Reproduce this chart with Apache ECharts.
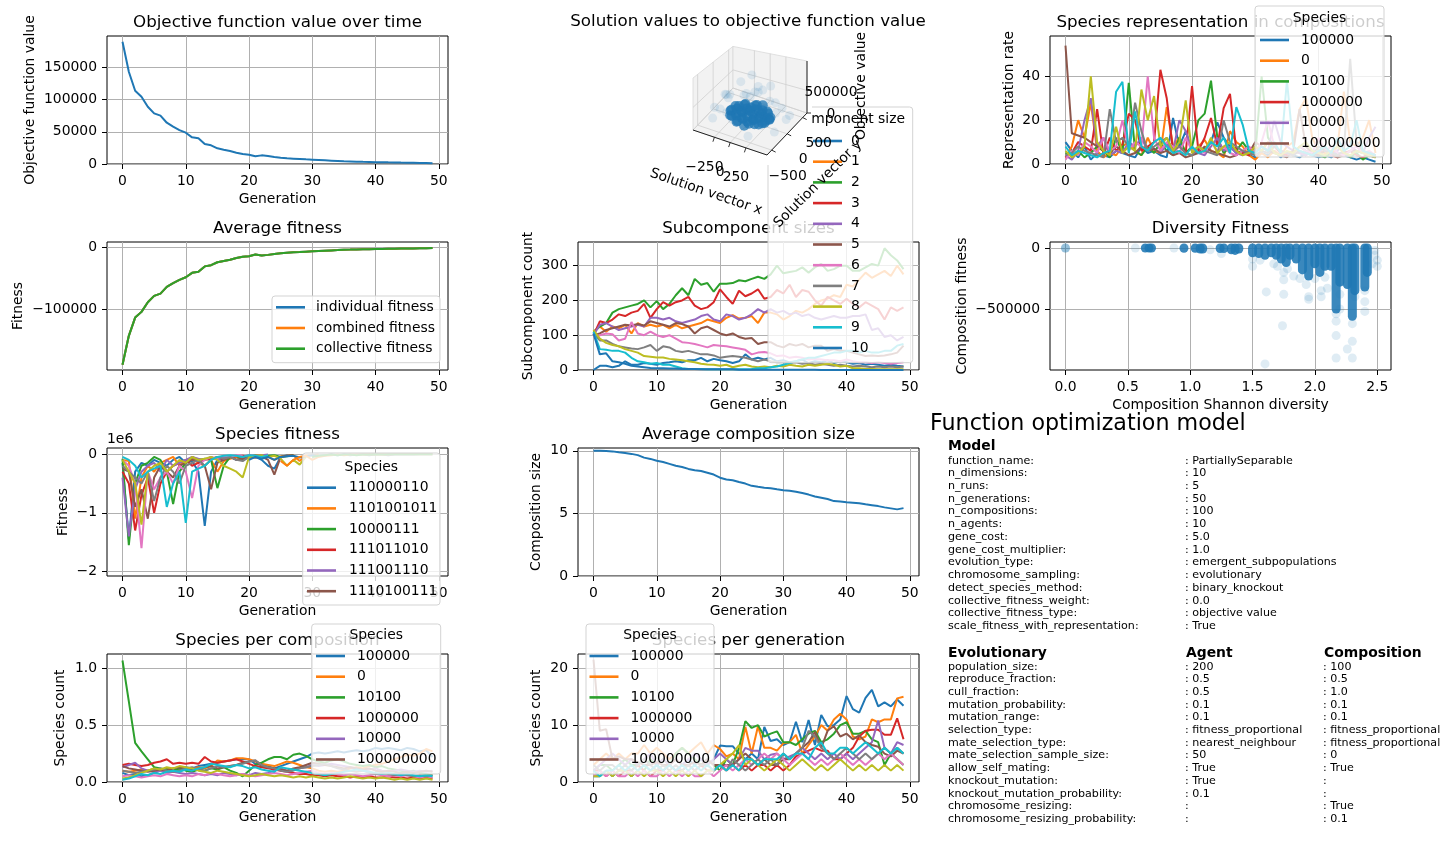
<!DOCTYPE html>
<html>
<head>
<meta charset="utf-8">
<title>Function optimization model</title>
<script src="https://cdn.jsdelivr.net/npm/echarts@6/dist/echarts.min.js"></script>
<style>
    html, body { margin: 0; padding: 0; background: #fff; }
    #chart { width: 1450px; height: 850px; }
</style>
</head>
<body>
<div id="chart"></div>
<script>
(function () {
    var FONT = 'DejaVu Sans';
    var TAB10 = ['#1f77b4', '#ff7f0e', '#2ca02c', '#d62728', '#9467bd', '#8c564b', '#e377c2', '#7f7f7f', '#bcbd22', '#17becf'];

    // ---- tick labels ----
    var generationTicks = [0, 10, 20, 30, 40, 50];
    var objectiveTicks = [0, 50000, 100000, 150000];
    var avgFitnessTicks = [-100000, 0];
    var speciesFitnessTicks = [-2, -1, 0];
    var speciesCompTicks = [0, 0.5, 1.0];
    var subcompTicks = [0, 100, 200, 300];
    var compSizeTicks = [0, 5, 10];
    var speciesGenTicks = [0, 10, 20];
    var speciesRepTicks = [0, 20, 40];
    var diversityXTicks = [0, 0.5, 1.0, 1.5, 2.0, 2.5];
    var diversityYTicks = [-500000, 0];

    // ---- objective / fitness ----
    var objectiveValues = [189800, 143200, 113700, 104500, 88900, 78600, 75000, 64100, 57900, 52700, 48600, 41400, 39800, 31000, 29000, 24300, 22200, 20200, 17600, 15500, 14500, 11900, 13400, 12400, 10900, 9800, 8800, 8300, 7800, 7200, 6700, 6200, 5700, 5200, 4700, 4100, 3900, 3600, 3300, 3200, 2800, 2900, 2600, 2500, 2200, 2000, 1900, 1700, 1600, 1300];
    var averageFitness = [-189800, -143200, -113700, -104500, -88900, -78600, -75000, -64100, -57900, -52700, -48600, -41400, -39800, -31000, -29000, -24300, -22200, -20200, -17600, -15500, -14500, -11900, -13400, -12400, -10900, -9800, -8800, -8300, -7800, -7200, -6700, -6200, -5700, -5200, -4700, -4100, -3900, -3600, -3300, -3200, -2800, -2900, -2600, -2500, -2200, -2000, -1900, -1700, -1600, -1300];
    var fitnessNames = ['individual fitness', 'combined fitness', 'collective fitness'];

    // ---- species names ----
    var speciesNames = ['100000', '0', '10100', '1000000', '10000', '100000000', '1', '110', '11', '101'];
    var fitSpeciesNames = ['110000110', '1101001011', '10000111', '111011010', '111001110', '1110100111', '1011001', '1100111', '10110110', '1110001', '110010110', '1001110', '11100'];

    // ---- species fitness (x 1e6), [start generation, values] ----
    var fit0 = [0, [-0.15, -1.45, -0.3, -0.15, -0.2, -0.1, -0.15, -0.2, -0.1, -0.05, -0.15, -0.12, -0.3, -1.22, -0.3, -0.1, -0.08, -0.05, -0.1, -0.05, -0.06, -0.05, -0.1, -0.2, -0.25, -0.05, -0.02, -0.03]];
    var fit1 = [0, [-0.1, -0.12, -1.1, -0.4, -0.2, -0.3, -0.15, -0.1, -0.05, -0.2, -0.1, -0.08, -0.15, -0.2, -0.1, -0.3, -0.12, -0.08, -0.05, -0.1, -0.05, -0.06, -0.03, -0.05, -0.1, -0.04, -0.03, -0.02, -0.12, -0.03, -0.02, -0.01]];
    var fit2 = [0, [-0.08, -1.55, -0.5, -0.2, -0.15, -0.05, -0.1, -0.3, -0.85, -0.3, -0.15, -0.05, -0.1, -0.08, -0.1, -0.58, -0.2, -0.05, -0.03, -0.1, -0.05, -0.02, -0.04, -0.03, -0.02, -0.05, -0.04, -0.02]];
    var fit3 = [0, [-0.3, -0.5, -1.3, -0.7, -0.4, -1.0, -0.5, -0.3, -0.2, -0.15, -0.1, -0.2, -0.15, -0.1, -0.08, -0.05, -0.1, -0.05, -0.04, -0.03, -0.05, -0.03, -0.02]];
    var fit4 = [0, [-0.4, -1.4, -0.6, -0.3, -0.2, -0.15, -0.3, -0.1, -0.2, -0.15, -0.1, -0.05, -0.08, -0.1, -0.05, -0.1, -0.05, -0.04, -0.03, -0.05, -0.02, -0.03, -0.02, -0.01]];
    var fit5 = [0, [-0.25, -0.3, -0.9, -0.6, -1.1, -0.4, -0.2, -0.3, -0.4, -0.2, -0.15, -0.1, -0.12, -0.2, -0.6, -0.15, -0.1, -0.05, -0.1, -0.08, -0.05, -0.06, -0.04, -0.1, -0.35, -0.05, -0.03, -0.02]];
    var fit6 = [0, [-0.1, -0.2, -0.5, -1.6, -0.3, -0.6, -0.4, -0.3, -0.5, -0.2, -0.3, -0.75, -0.2, -0.1, -0.05, -0.08, -0.03, -0.05, -0.02, -0.03]];
    var fit7 = [0, [-0.2, -0.3, -0.4, -0.5, -0.3, -0.8, -0.4, -0.2, -0.3, -0.5, -0.2, -0.15, -0.1, -0.2, -0.1, -0.05, -0.08, -0.05, -0.1, -0.12, -0.05]];
    var fit8 = [0, [-0.1, -0.3, -0.5, -1.2, -0.3, -0.2, -0.15, -0.3, -0.2, -0.1, -0.15, -0.05, -0.1, -0.08, -0.05, -0.1, -0.2, -0.25, -0.3, -0.4, -0.05, -0.03, -0.02, -0.05, -0.03, -0.08, -0.2, -0.1, -0.18, -0.05]];
    var fit9 = [0, [-0.05, -0.1, -0.2, -0.4, -0.3, -0.25, -0.2, -0.9, -0.5, -0.3, -1.17, -0.3, -0.25, -0.2, -0.1, -0.05, -0.03, -0.02, -0.03, -0.05, -0.02, -0.03, -0.05, -0.02]];
    var fit10 = [20, [-0.1, -0.05, -0.08, -0.05, -0.1, -0.05, -0.04, -0.03, -0.06, -0.04, -0.02, -0.03, -0.02, -0.01, -0.02, -0.01, -0.02, -0.01, -0.01, -0.02, -0.01, -0.01, -0.02, -0.01, -0.01, -0.01, -0.01, -0.005, -0.005, -0.005]];
    var fit11 = [25, [-0.12, -0.2, -0.1, -0.05, -0.03, -0.1, -0.05, -0.03, -0.02, -0.01, -0.02, -0.01, -0.01, -0.01, -0.005, -0.01, -0.005, -0.01, -0.005, -0.005, -0.005, -0.005, -0.005, -0.005, -0.005]];
    var fit12 = [30, [-0.05, -0.03, -0.02, -0.01, -0.02, -0.01, -0.01, -0.02, -0.01, -0.01, -0.005, -0.01, -0.005, -0.005, -0.005, -0.005, -0.005, -0.005, -0.005, -0.005]];
    var speciesFitness = [fit0, fit1, fit2, fit3, fit4, fit5, fit6, fit7, fit8, fit9, fit10, fit11, fit12];

    // ---- species per composition ----
    var comp0 = [0.08, 0.06, 0.07, 0.05, 0.06, 0.08, 0.1, 0.12, 0.1, 0.11, 0.13, 0.12, 0.14, 0.15, 0.16, 0.17, 0.18, 0.19, 0.2, 0.2, 0.2, 0.16, 0.15, 0.14, 0.12, 0.14, 0.16, 0.18, 0.2, 0.22, 0.25, 0.26, 0.25, 0.26, 0.27, 0.26, 0.27, 0.28, 0.27, 0.28, 0.3, 0.29, 0.3, 0.29, 0.28, 0.3, 0.29, 0.27, 0.28, 0.22];
    var comp1 = [0.1, 0.09, 0.1, 0.11, 0.1, 0.12, 0.1, 0.11, 0.12, 0.1, 0.11, 0.12, 0.13, 0.12, 0.14, 0.19, 0.18, 0.19, 0.21, 0.21, 0.2, 0.18, 0.16, 0.15, 0.14, 0.16, 0.18, 0.17, 0.15, 0.13, 0.12, 0.1, 0.09, 0.1, 0.09, 0.1, 0.12, 0.13, 0.12, 0.14, 0.15, 0.16, 0.18, 0.2, 0.22, 0.24, 0.23, 0.25, 0.29, 0.27];
    var comp2 = [1.07, 0.71, 0.345, 0.27, 0.2, 0.13, 0.12, 0.11, 0.1, 0.12, 0.1, 0.09, 0.11, 0.1, 0.12, 0.11, 0.13, 0.1, 0.08, 0.05, 0.1, 0.15, 0.17, 0.2, 0.22, 0.22, 0.2, 0.24, 0.25, 0.23, 0.2, 0.18, 0.17, 0.19, 0.2, 0.18, 0.16, 0.15, 0.14, 0.15, 0.13, 0.14, 0.12, 0.11, 0.1, 0.09, 0.1, 0.08, 0.07, 0.06];
    var comp3 = [0.15, 0.16, 0.15, 0.14, 0.15, 0.17, 0.18, 0.2, 0.16, 0.17, 0.16, 0.17, 0.16, 0.22, 0.18, 0.17, 0.18, 0.19, 0.2, 0.18, 0.16, 0.14, 0.13, 0.12, 0.11, 0.1, 0.09, 0.08, 0.07, 0.07, 0.06, 0.06, 0.05, 0.06, 0.05, 0.05, 0.04, 0.05, 0.04, 0.05, 0.04, 0.04, 0.05, 0.04, 0.04, 0.03, 0.04, 0.03, 0.04, 0.03];
    var comp4 = [0.13, 0.15, 0.17, 0.12, 0.1, 0.09, 0.1, 0.08, 0.09, 0.08, 0.07, 0.08, 0.07, 0.06, 0.07, 0.06, 0.08, 0.07, 0.06, 0.07, 0.06, 0.08, 0.07, 0.08, 0.1, 0.12, 0.1, 0.11, 0.12, 0.13, 0.15, 0.14, 0.15, 0.16, 0.15, 0.14, 0.13, 0.12, 0.1, 0.11, 0.12, 0.1, 0.09, 0.1, 0.11, 0.1, 0.09, 0.1, 0.09, 0.1];
    var comp5 = [0.14, 0.12, 0.11, 0.1, 0.09, 0.1, 0.11, 0.1, 0.12, 0.13, 0.12, 0.11, 0.12, 0.13, 0.14, 0.12, 0.13, 0.14, 0.15, 0.17, 0.18, 0.19, 0.14, 0.13, 0.12, 0.11, 0.1, 0.12, 0.13, 0.15, 0.17, 0.16, 0.15, 0.14, 0.13, 0.12, 0.13, 0.12, 0.11, 0.12, 0.1, 0.09, 0.1, 0.09, 0.08, 0.09, 0.08, 0.09, 0.1, 0.09];
    var comp6 = [0.05, 0.06, 0.05, 0.04, 0.05, 0.06, 0.05, 0.07, 0.06, 0.05, 0.06, 0.05, 0.07, 0.06, 0.08, 0.07, 0.06, 0.05, 0.06, 0.07, 0.06, 0.05, 0.06, 0.07, 0.08, 0.07, 0.06, 0.07, 0.08, 0.09, 0.1, 0.08, 0.07, 0.08, 0.07, 0.06, 0.07, 0.06, 0.05, 0.06, 0.07, 0.06, 0.05, 0.06, 0.05, 0.06, 0.05, 0.04, 0.05, 0.04];
    var comp7 = [0.1, 0.09, 0.08, 0.09, 0.1, 0.11, 0.12, 0.1, 0.09, 0.1, 0.12, 0.13, 0.11, 0.1, 0.12, 0.14, 0.13, 0.14, 0.15, 0.16, 0.18, 0.19, 0.15, 0.13, 0.12, 0.1, 0.09, 0.1, 0.12, 0.13, 0.14, 0.15, 0.16, 0.14, 0.12, 0.11, 0.1, 0.09, 0.1, 0.08, 0.07, 0.08, 0.07, 0.06, 0.07, 0.06, 0.05, 0.06, 0.05, 0.06];
    var comp8 = [0.03, 0.04, 0.06, 0.08, 0.1, 0.12, 0.11, 0.13, 0.12, 0.14, 0.13, 0.12, 0.1, 0.09, 0.08, 0.1, 0.09, 0.08, 0.07, 0.06, 0.05, 0.06, 0.07, 0.06, 0.05, 0.06, 0.05, 0.04, 0.05, 0.04, 0.05, 0.04, 0.03, 0.04, 0.03, 0.04, 0.05, 0.04, 0.03, 0.04, 0.03, 0.04, 0.03, 0.02, 0.03, 0.02, 0.03, 0.02, 0.03, 0.02];
    var comp9 = [0.02, 0.03, 0.05, 0.07, 0.06, 0.08, 0.07, 0.09, 0.1, 0.09, 0.11, 0.1, 0.12, 0.13, 0.16, 0.15, 0.14, 0.13, 0.15, 0.14, 0.12, 0.13, 0.11, 0.1, 0.09, 0.13, 0.12, 0.11, 0.1, 0.09, 0.08, 0.07, 0.06, 0.07, 0.08, 0.09, 0.1, 0.11, 0.1, 0.09, 0.08, 0.07, 0.08, 0.07, 0.06, 0.07, 0.06, 0.05, 0.06, 0.05];
    var speciesPerComposition = [comp0, comp1, comp2, comp3, comp4, comp5, comp6, comp7, comp8, comp9];

    // ---- subcomponent sizes ----
    var sub0 = [0, 12, 12, 8, 12, 25, 15, 15, 20, 18, 15, 20, 22, 25, 22, 28, 28, 35, 25, 32, 28, 25, 20, 25, 45, 30, 35, 30, 35, 25, 28, 22, 25, 30, 20, 25, 22, 28, 20, 25, 22, 18, 20, 15, 18, 15, 12, 15, 12, 10];
    var sub1 = [110, 125, 110, 125, 120, 130, 105, 135, 125, 130, 125, 130, 120, 130, 120, 125, 130, 135, 145, 140, 135, 150, 158, 148, 150, 155, 135, 165, 165, 160, 145, 155, 170, 165, 175, 190, 200, 205, 215, 210, 245, 240, 260, 280, 265, 275, 285, 270, 300, 275];
    var sub2 = [110, 125, 135, 165, 175, 180, 185, 190, 200, 180, 198, 175, 190, 215, 235, 215, 262, 245, 250, 225, 248, 248, 250, 258, 255, 262, 268, 262, 275, 300, 278, 282, 285, 295, 280, 295, 305, 285, 290, 300, 300, 285, 285, 295, 305, 300, 350, 330, 315, 290];
    var sub3 = [100, 140, 135, 145, 160, 155, 165, 170, 190, 150, 175, 195, 185, 195, 200, 210, 185, 175, 180, 195, 232, 210, 190, 228, 212, 220, 232, 205, 210, 230, 220, 245, 210, 230, 225, 200, 185, 210, 200, 190, 205, 190, 180, 195, 185, 175, 145, 180, 170, 180];
    var sub4 = [100, 130, 135, 125, 115, 120, 125, 130, 125, 150, 150, 145, 150, 140, 135, 140, 145, 155, 160, 145, 140, 160, 155, 145, 150, 160, 175, 165, 175, 165, 170, 160, 165, 155, 160, 150, 145, 150, 155, 150, 150, 155, 155, 160, 115, 120, 95, 100, 85, 95];
    var sub5 = [100, 105, 115, 120, 125, 130, 128, 132, 128, 140, 135, 130, 125, 135, 132, 125, 105, 120, 125, 115, 105, 100, 105, 95, 90, 92, 75, 80, 80, 70, 65, 75, 70, 75, 65, 70, 70, 55, 60, 55, 55, 50, 45, 40, 42, 40, 42, 45, 50, 70];
    var sub6 = [95, 100, 105, 103, 85, 90, 138, 105, 100, 110, 100, 95, 100, 90, 80, 78, 75, 70, 65, 72, 70, 68, 65, 62, 58, 45, 50, 52, 48, 40, 42, 35, 38, 35, 30, 32, 30, 28, 28, 25, 30, 25, 22, 22, 20, 22, 20, 18, 20, 22];
    var sub7 = [105, 85, 85, 75, 68, 65, 62, 60, 65, 72, 55, 68, 65, 55, 52, 55, 50, 45, 45, 42, 35, 38, 40, 38, 35, 30, 25, 30, 25, 22, 22, 20, 22, 18, 20, 15, 18, 15, 12, 15, 12, 10, 12, 10, 8, 10, 8, 10, 8, 10];
    var sub8 = [115, 90, 78, 72, 68, 60, 55, 50, 40, 38, 36, 36, 32, 30, 28, 25, 22, 18, 16, 15, 12, 15, 8, 12, 15, 10, 8, 10, 8, 12, 10, 15, 12, 10, 15, 12, 15, 18, 15, 10, 12, 5, 5, 3, 3, 2, 2, 2, 2, 2];
    var sub9 = [110, 60, 58, 55, 55, 50, 35, 25, 22, 18, 20, 15, 15, 10, 5, 3, 3, 3, 2, 2, 2, 2, 2, 2, 2, 3, 5, 5, 8, 10, 15, 20, 25, 30, 35, 35, 40, 45, 50, 50, 55, 55, 50, 55, 50, 50, 55, 55, 70, 75];
    var sub10 = [105, 45, 48, 25, 22, 18, 12, 10, 8, 6, 5, 5, 4, 4, 3, 3, 3, 2, 2, 2, 2, 2, 2, 1, 1, 1, 1, 1, 1, 1, 1, 1, 1, 1, 1, 1, 0, 0, 0, 0, 0, 0, 0, 0, 0, 0, 0, 0, 0, 0];
    var subcomponentCounts = [sub0, sub1, sub2, sub3, sub4, sub5, sub6, sub7, sub8, sub9, sub10];
    var subcomponentNames = ['0', '1', '2', '3', '4', '5', '6', '7', '8', '9', '10'];

    // ---- average composition size ----
    var compositionSize = [10.0, 10.0, 9.98, 9.95, 9.88, 9.82, 9.75, 9.65, 9.45, 9.35, 9.2, 9.1, 8.95, 8.8, 8.7, 8.55, 8.45, 8.38, 8.25, 8.1, 7.85, 7.7, 7.65, 7.5, 7.38, 7.2, 7.12, 7.05, 7.0, 6.92, 6.85, 6.8, 6.72, 6.62, 6.5, 6.35, 6.25, 6.15, 5.98, 5.95, 5.88, 5.85, 5.8, 5.72, 5.65, 5.58, 5.48, 5.4, 5.32, 5.42];

    // ---- species per generation ----
    var gen0 = [1, 1, 2, 1, 2, 2, 1, 2, 3, 2, 3, 2, 3, 2, 3, 4, 3, 4, 3, 4, 6.4, 6.3, 6.3, 5, 4, 5, 4, 9.7, 7.2, 7.5, 6.5, 7, 10.6, 7, 10.9, 6.5, 11.8, 9.8, 10, 11, 15.1, 12.8, 12.2, 14.8, 16.2, 13.3, 14, 13.3, 14.5, 13.4];
    var gen1 = [3, 4, 5, 4, 5, 4, 5, 5, 6.5, 5, 6, 5, 4, 5, 6, 5, 6, 7, 5, 6.5, 5.8, 4.5, 5, 4, 9.7, 5, 9.8, 6, 6, 5.5, 6.8, 7, 8.3, 5, 6.5, 8, 10, 9, 11, 12, 11, 8, 7.5, 8, 11, 10.5, 11, 11, 14.7, 15];
    var gen2 = [2, 3, 3, 2, 3, 4, 3, 3, 2, 4, 3, 4, 3, 5, 6, 5, 4, 3, 4, 3, 2, 4, 3, 6, 10.7, 9.5, 10, 8, 8.5, 8.9, 7, 7, 6.5, 7.5, 8.5, 9, 7, 7.5, 8.5, 10, 10.5, 8.5, 8.5, 9, 7.5, 7, 3, 5, 4, 3];
    var gen3 = [2, 2, 1, 2, 1, 2, 2, 3, 2, 1, 2, 2, 3, 2, 2, 3, 2, 3, 2, 2, 3, 2, 3, 2, 3, 2, 3, 3, 2, 3, 2, 3, 4.5, 5, 5.5, 6, 5.5, 5.5, 4, 4, 5, 6, 8, 9, 9.2, 9.2, 8.3, 8.3, 11.2, 7.5];
    var gen4 = [2, 3, 4, 5, 4, 3, 4, 3, 4, 5, 3, 4, 3, 4, 3, 4, 5, 4, 3, 4, 5, 4, 3, 4, 6, 5.5, 5.5, 4, 4.8, 5, 4, 4.5, 5, 6, 5, 4, 5, 4, 5, 4, 5, 4, 5, 6, 7, 10.8, 6, 5, 7, 6.5];
    var gen5 = [21.5, 9, 9.3, 4, 4.5, 4, 4, 3.5, 3, 3, 3.5, 3, 3, 4, 3, 3, 3.5, 3, 4, 3, 3, 3, 3, 4, 5, 4, 3, 4, 3, 3, 4, 4, 5, 6, 7, 8.8, 6, 9, 9.8, 8, 8.5, 7.5, 8.2, 7, 6.5, 6.2, 5, 4.5, 5.5, 5];
    var gen6 = [1, 2, 1, 2, 1, 1, 2, 1, 2, 1, 1, 2, 1, 2, 1, 2, 1, 1, 2, 1, 2, 3, 2, 3, 4, 3, 4, 5, 4, 5, 4, 3, 4, 5, 4, 3, 4, 3, 4, 5, 4, 3, 4, 3, 4, 5, 4, 5, 4, 3];
    var gen7 = [3, 2, 3, 3, 2, 3, 2, 3, 4, 3, 2, 3, 2, 3, 2, 3, 2, 3, 3, 2, 3, 2, 4, 3, 2, 3, 4, 3, 4, 3, 5, 4, 5, 6, 9, 8, 6, 5, 4, 5, 6, 5, 4, 5, 4, 5, 6, 5, 6, 5];
    var gen8 = [1, 1, 2, 1, 2, 2, 1, 2, 1, 2, 2, 1, 2, 1, 2, 1, 2, 1, 2, 2, 3, 4, 5, 6.5, 3, 4, 3, 2, 3, 4, 3, 2, 3, 4, 3, 2, 3, 2, 3, 4, 3, 2, 3, 2, 3, 2, 3, 2, 3, 2];
    var gen9 = [2, 1, 2, 2, 3, 2, 3, 2, 3, 2, 3, 2, 3, 2, 3, 2, 3, 2, 3, 2, 3, 2, 3, 2, 4, 4, 3, 4, 4, 4, 5, 4, 5, 5, 4, 6, 7, 5, 5, 6, 6, 5, 6, 7, 6, 5, 6, 5, 6, 5];
    var speciesPerGeneration = [gen0, gen1, gen2, gen3, gen4, gen5, gen6, gen7, gen8, gen9];

    // ---- species representation ----
    var rep0 = [10, 6, 3, 8, 2, 5, 4, 3, 6, 5, 4, 3, 8, 5, 6, 4, 3, 21, 8, 15, 6, 5, 7, 10, 19, 12, 8, 5, 6, 4, 3, 5, 4, 6, 3, 5, 4, 3, 5, 4, 3, 4, 3, 5, 4, 3, 2, 3, 2, 1];
    var rep1 = [3, 8, 20, 12, 28, 6, 3, 5, 4, 8, 10, 6, 4, 12, 6, 5, 26, 8, 12, 5, 4, 8, 11, 6, 5, 3, 15, 10, 8, 4, 2, 5, 3, 6, 4, 8, 10, 25, 30, 12, 6, 5, 4, 8, 33, 10, 8, 12, 20, 5];
    var rep2 = [5, 4, 6, 3, 5, 8, 6, 3, 12, 5, 37, 6, 4, 8, 5, 10, 6, 4, 12, 5, 8, 20, 23, 38, 12, 5, 8, 6, 10, 6, 5, 40, 12, 8, 6, 5, 4, 8, 6, 5, 4, 3, 5, 4, 6, 3, 5, 2, 4, 3];
    var rep3 = [3, 5, 10, 8, 6, 25, 4, 12, 6, 9, 23, 20, 6, 8, 10, 43, 30, 6, 8, 5, 35.5, 6, 12, 21, 8, 25.5, 32, 6, 5, 4, 8, 6, 10, 8, 5, 4, 6, 5, 4, 6, 5, 8, 4, 3, 5, 6, 4, 3, 5, 4];
    var rep4 = [4, 2, 6, 20, 30, 8, 12, 4, 6, 5, 10, 8, 12, 6, 7, 5, 9, 6, 20, 15, 6, 5, 4, 8, 12, 6, 8, 5, 4, 6, 5, 8, 6, 20, 10, 8, 6, 5, 4, 6, 5, 8, 4, 6, 10, 8, 6, 5, 12, 17];
    var rep5 = [54, 14, 13, 12, 10, 8, 6, 5, 8, 6, 4, 5, 8, 6, 7, 5, 6, 4, 5, 3, 4, 5, 8, 6, 5, 4, 3, 4, 6, 5, 10, 8, 6, 5, 4, 3, 6, 25, 8, 5, 4, 6, 5, 3, 4, 6, 6, 5, 4, 3];
    var rep6 = [2, 6, 4, 10, 8, 5, 12, 6, 8, 20, 6, 10, 8, 40, 12, 6, 10, 8, 5, 12, 6, 8, 5, 10, 6, 8, 5, 4, 6, 8, 5, 10, 20, 8, 6, 5, 4, 8, 6, 5, 12, 6, 8, 5, 4, 6, 8, 5, 6, 4];
    var rep7 = [4, 5, 8, 6, 5, 4, 3, 25, 10, 12, 8, 28, 15, 6, 8, 10, 12, 6, 8, 5, 4, 8, 6, 5, 4, 20, 10, 8, 6, 5, 4, 6, 5, 8, 6, 5, 4, 6, 5, 4, 8, 6, 5, 4, 6, 48, 10, 6, 5, 4];
    var rep8 = [6, 3, 5, 8, 40, 10, 6, 4, 17, 5, 8, 6, 34, 20, 31, 8, 12, 6, 10, 29, 5, 8, 6, 12, 5, 8, 10, 6, 4, 5, 8, 6, 10, 5, 4, 6, 5, 8, 10, 6, 5, 4, 6, 8, 5, 4, 6, 5, 4, 3];
    var rep9 = [8, 4, 6, 5, 4, 3, 5, 6, 33, 37.5, 5, 24, 8, 6, 10, 12, 8, 5, 6, 4, 8, 5, 6, 10, 8, 12, 5, 26, 18, 6, 5, 8, 6, 10, 5, 38, 8, 6, 5, 4, 6, 8, 5, 12, 6, 8, 20, 6, 5, 4];
    var speciesRepresentation = [rep0, rep1, rep2, rep3, rep4, rep5, rep6, rep7, rep8, rep9];

    // ---- diversity vs composition fitness ----
    // dense stacks of overlapping points: [diversity, top fitness, bottom fitness]
    var diversityDense = [[0.64, 0, 0], [0.67, 0, 0], [0.69, 0, 0], [0.95, 0, -3000], [1.04, 0, -3000], [1.08, 0, -8000], [1.1, 0, -8000], [1.24, 0, -5000], [1.27, 0, -5000], [1.33, 0, -15000], [1.36, 0, -20000], [1.39, 0, -8000], [1.5, 0, -40000], [1.55, 0, -45000], [1.6, 0, -60000], [1.65, 0, -40000], [1.69, 0, -60000], [1.73, 0, -90000], [1.77, 0, -120000], [1.8, 0, -60000], [1.85, 0, -90000], [1.9, 0, -180000], [1.95, 0, -230000], [2.0, 0, -130000], [2.04, 0, -200000], [2.08, 0, -150000], [2.13, 0, -150000], [2.17, 0, -500000], [2.2, 0, -280000], [2.26, 0, -300000], [2.3, 0, -560000], [2.32, 0, -350000], [2.4, 0, -320000], [2.42, 0, -200000]];
    var diversitySparse = [[0, 0], [0, 0], [0, 0], [0, 0], [0.56, 0], [0.87, 0], [1.16, -15000], [1.25, -45000], [1.5, -90000], [1.5, -150000], [1.56, -100000], [1.61, -360000], [1.6, -950000], [1.67, -130000], [1.7, -150000], [1.75, -200000], [1.75, -260000], [1.75, -380000], [1.74, -637000], [1.78, -170000], [1.83, -230000], [1.88, -250000], [1.93, -300000], [1.95, -400000], [1.95, -420000], [2.0, -250000], [2.05, -350000], [2.05, -400000], [2.1, -330000], [2.08, -240000], [2.17, -540000], [2.17, -600000], [2.17, -718000], [2.17, -902000], [2.2, -500000], [2.2, -380000], [2.26, -828000], [2.3, -620000], [2.3, -765000], [2.3, -902000], [2.32, -400000], [2.4, -350000], [2.4, -440000], [2.4, -520000], [2.48, -20000], [2.48, -60000], [2.5, -100000], [2.5, -150000], [2.46, -130000]];

    // ---- solution vector (x, y) against objective value ----
    var solutionCore = [[-80, -280, 150000], [40, -280, 120000],
        [-190, -210, 180000], [-100, -210, 110000], [-10, -210, 200000], [80, -210, 130000], [170, -210, 160000],
        [-250, -140, 120000], [-160, -140, 210000], [-70, -140, 140000], [20, -140, 100000], [110, -140, 190000], [200, -140, 120000], [260, -140, 170000],
        [-280, -70, 160000], [-190, -70, 100000], [-100, -70, 220000], [-10, -70, 150000], [80, -70, 110000], [170, -70, 200000], [260, -70, 130000],
        [-300, 0, 120000], [-210, 0, 190000], [-120, 0, 140000], [-30, 0, 230000], [60, 0, 100000], [150, 0, 170000], [240, 0, 120000], [300, 0, 180000],
        [-270, 70, 170000], [-180, 70, 110000], [-90, 70, 200000], [0, 70, 130000], [90, 70, 240000], [180, 70, 140000], [270, 70, 110000],
        [-250, 140, 130000], [-160, 140, 200000], [-70, 140, 110000], [20, 140, 180000], [110, 140, 130000], [200, 140, 210000], [250, 140, 100000],
        [-180, 210, 160000], [-90, 210, 120000], [0, 210, 220000], [90, 210, 140000], [180, 210, 110000],
        [-60, 280, 130000], [60, 280, 190000]];
    var solutionSparse = [[-520, -100, 150000], [-480, 200, 250000], [-450, -300, 80000], [480, -200, 120000], [520, 100, 200000], [450, 350, 90000], [-300, 480, 150000], [200, -480, 100000], [0, 0, 550000], [100, 50, 650000], [-150, 100, 450000], [250, -100, 480000], [-50, -200, 420000], [300, 200, 400000], [-350, 0, 380000], [50, 300, 520000], [-200, -350, 350000], [400, 0, 350000], [150, -300, 400000], [-100, 350, 380000], [-450, 100, 350000], [350, -350, 300000], [0, 50, 1000000], [150, -50, 850000], [-200, 100, 750000], [-250, -150, 600000], [200, 250, 700000], [-380, -200, 250000], [380, 250, 280000], [-100, -380, 260000], [120, 380, 240000]];
    var sol3dXRange = [-590, 585], sol3dYRange = [-650, 640], sol3dZRange = [0, 1150000];
    var sol3dXTicks = [-250, 0, 250], sol3dYTicks = [-500, 0, 500], sol3dZTicks = [0, 500000];

    // ---- parameter table ----
    var modelParams = [
        ['function_name:', 'PartiallySeparable'], ['n_dimensions:', '10'], ['n_runs:', '5'],
        ['n_generations:', '50'], ['n_compositions:', '100'], ['n_agents:', '10'],
        ['gene_cost:', '5.0'], ['gene_cost_multiplier:', '1.0'], ['evolution_type:', 'emergent_subpopulations'],
        ['chromosome_sampling:', 'evolutionary'], ['detect_species_method:', 'binary_knockout'],
        ['collective_fitness_weight:', '0.0'], ['collective_fitness_type:', 'objective value'],
        ['scale_fitness_with_representation:', 'True']
    ];
    var evolutionaryParams = [
        ['population_size:', '200', '100'], ['reproduce_fraction:', '0.5', '0.5'], ['cull_fraction:', '0.5', '1.0'],
        ['mutation_probability:', '0.1', '0.1'], ['mutation_range:', '0.1', '0.1'],
        ['selection_type:', 'fitness_proportional', 'fitness_proportional'],
        ['mate_selection_type:', 'nearest_neighbour', 'fitness_proportional'],
        ['mate_selection_sample_size:', '50', '0'], ['allow_self_mating:', 'True', 'True'],
        ['knockout_mutation:', 'True', ''], ['knockout_mutation_probability:', '0.1', ''],
        ['chromosome_resizing:', '', 'True'], ['chromosome_resizing_probability:', '', '0.1']
    ];

    // ================= builders =================
    var AXW = 341, AXH = 128;
    var grids = [], xAxes = [], yAxes = [], series = [], legends = [], graphics = [];

    function minus(s) { return String(s).replace('-', '\u2212'); }
    function plain(v) { return minus(v); }
    function oneDec(v) { return minus(v.toFixed(1)); }

    function textEl(x, y, text, size, z, opt) {
        opt = opt || {};
        return {
            type: 'text', z: z, silent: true, x: x, y: y, rotation: opt.rotation || 0,
            style: {
                text: text, fill: '#000', fontFamily: FONT, fontSize: size,
                fontWeight: opt.weight || 'normal', align: opt.align || 'center', verticalAlign: 'middle'
            }
        };
    }

    function axisOpt(i, range, ticks, fmt, name, gap) {
        return {
            type: 'value', gridIndex: i, min: range[0], max: range[1],
            name: name, nameLocation: 'middle', nameGap: gap,
            nameTextStyle: { fontFamily: FONT, fontSize: 13.9, color: '#000' },
            axisLine: { show: false, onZero: false },
            axisTick: { show: true, length: 5, customValues: ticks, lineStyle: { color: '#000', width: 1 } },
            axisLabel: { customValues: ticks, formatter: fmt, fontFamily: FONT, fontSize: 13.9, color: '#000', margin: 10 },
            splitLine: { show: true, lineStyle: { color: '#b0b0b0', width: 1 } }
        };
    }

    function addPanel(p) {
        var i = grids.length;
        grids.push({ left: p.left, top: p.top, width: AXW, height: AXH, show: true, borderColor: '#000', borderWidth: 1, backgroundColor: 'transparent' });
        xAxes.push(axisOpt(i, p.xRange || [-2.45, 51.45], p.xTicks || generationTicks, p.xFmt || plain, p.xName || 'Generation', 28));
        yAxes.push(axisOpt(i, p.yRange, p.yTicks, p.yFmt || plain, p.yName, p.yGap));
        graphics.push(textEl(p.left + AXW / 2, p.top - 13.5, p.title, 16.7, 5));
        return i;
    }

    function addLines(i, list, names, colorOf, start) {
        list.forEach(function (vals, k) {
            var s0 = start, arr = vals;
            if (start == null) { s0 = vals[0]; arr = vals[1]; }
            var color = colorOf(k);
            series.push({
                type: 'line', name: names[k], xAxisIndex: i, yAxisIndex: i, z: 2,
                data: arr.map(function (v, j) { return [s0 + j, v]; }),
                symbol: 'none', silent: true, clip: true,
                lineStyle: { color: color, width: 2 }, itemStyle: { color: color }
            });
        });
    }

    function addLegend(cfg) {
        var b = cfg.box;
        graphics.push({
            type: 'rect', z: 10, silent: true,
            shape: { x: b[0], y: b[1], width: b[2] - b[0], height: b[3] - b[1], r: 3 },
            style: { fill: 'rgba(255,255,255,0.8)', stroke: '#d3d3d3', lineWidth: 1 }
        });
        if (cfg.title) graphics.push(textEl(cfg.titleAt[0], cfg.titleAt[1], cfg.title, 13.9, 11));
        legends.push({
            z: 11, orient: 'vertical', left: cfg.iconX, top: cfg.firstY - 7, padding: 0,
            icon: 'rect', itemWidth: 29, itemHeight: 2.6, itemGap: 6.7, selectedMode: false,
            textStyle: { fontFamily: FONT, fontSize: 13.9, color: '#000', lineHeight: 14, padding: [0, 0, 0, cfg.textPad] },
            data: cfg.names.map(function (n, k) { return { name: n, itemStyle: { color: cfg.colors[k] } }; })
        });
    }

    function tab(k) { return TAB10[k % 10]; }

    // ---- column 1 ----
    var gObj = addPanel({ left: 107, top: 36, title: 'Objective function value over time', yRange: [0, 198700], yTicks: objectiveTicks, yName: 'Objective function value', yGap: 70 });
    addLines(gObj, [objectiveValues], ['objective'], tab, 0);

    var gAvg = addPanel({ left: 107, top: 242, title: 'Average fitness', yRange: [-198400, 8400], yTicks: avgFitnessTicks, yName: 'Fitness', yGap: 82 });
    addLines(gAvg, [averageFitness, averageFitness, averageFitness], fitnessNames, tab, 0);
    addLegend({ box: [272, 296, 440, 362.7], names: fitnessNames, colors: TAB10.slice(0, 3), iconX: 276, firstY: 307.3, textPad: 6 });

    var gSpF = addPanel({ left: 107, top: 448, title: 'Species fitness', yRange: [-2.074, 0.102], yTicks: speciesFitnessTicks, yName: 'Fitness', yGap: 37 });
    addLines(gSpF, speciesFitness, fitSpeciesNames, tab, null);
    graphics.push(textEl(107, 439, '1e6', 13.9, 5, { align: 'left' }));
    addLegend({ box: [302.7, 453, 440, 605], title: 'Species', titleAt: [371.3, 467.7], names: fitSpeciesNames.slice(0, 6), colors: TAB10.slice(0, 6), iconX: 307, firstY: 487.7, textPad: 8 });

    var gSpC = addPanel({ left: 107, top: 654, title: 'Species per composition', yRange: [0, 1.127], yTicks: speciesCompTicks, yFmt: oneDec, yName: 'Species count', yGap: 40 });
    addLines(gSpC, speciesPerComposition, speciesNames, tab, 0);
    addLegend({ box: [311.7, 624, 440.7, 774], title: 'Species', titleAt: [376.2, 635], names: speciesNames.slice(0, 6), colors: TAB10.slice(0, 6), iconX: 316, firstY: 656, textPad: 7 });

    // ---- column 2 ----
    var gSub = addPanel({ left: 578, top: 242, title: 'Subcomponent sizes', yRange: [0, 368], yTicks: subcompTicks, yName: 'Subcomponent count', yGap: 43 });
    addLines(gSub, subcomponentCounts, subcomponentNames, tab, 0);
    addLegend({ box: [768, 107, 912.7, 362.7], title: 'Component size', titleAt: [849, 119], names: subcomponentNames, colors: subcomponentNames.map(function (n, k) { return tab(k); }), iconX: 813, firstY: 141, textPad: 4 });

    var gCs = addPanel({ left: 578, top: 448, title: 'Average composition size', yRange: [0, 10.22], yTicks: compSizeTicks, yName: 'Composition size', yGap: 35 });
    addLines(gCs, [compositionSize], ['composition size'], tab, 0);

    var gSpG = addPanel({ left: 578, top: 654, title: 'Species per generation', yRange: [0, 22.5], yTicks: speciesGenTicks, yName: 'Species count', yGap: 35 });
    addLines(gSpG, speciesPerGeneration, speciesNames, tab, 0);
    addLegend({ box: [586, 624, 714, 774], title: 'Species', titleAt: [650, 635], names: speciesNames.slice(0, 6), colors: TAB10.slice(0, 6), iconX: 589.5, firstY: 656, textPad: 7 });

    // ---- column 3 ----
    var gRep = addPanel({ left: 1050, top: 36, title: 'Species representation in compositions', yRange: [0, 58.4], yTicks: speciesRepTicks, yName: 'Representation rate', yGap: 34 });
    addLines(gRep, speciesRepresentation, speciesNames, tab, 0);
    addLegend({ box: [1255, 6, 1384, 157], title: 'Species', titleAt: [1319.5, 18.3], names: speciesNames.slice(0, 6), colors: TAB10.slice(0, 6), iconX: 1260, firstY: 40, textPad: 7 });

    var gDiv = addPanel({ left: 1050, top: 242, title: 'Diversity Fitness', xRange: [-0.124, 2.61], xTicks: diversityXTicks, xFmt: oneDec, xName: 'Composition Shannon diversity', yRange: [-1000000, 49000], yTicks: diversityYTicks, yName: 'Composition fitness', yGap: 81 });
    series.push({
        type: 'scatter', xAxisIndex: gDiv, yAxisIndex: gDiv, z: 2, silent: true, data: diversitySparse,
        symbolSize: 9, itemStyle: { color: '#1f77b4', opacity: 0.14 }
    });
    series.push({
        type: 'custom', xAxisIndex: gDiv, yAxisIndex: gDiv, z: 3, silent: true, data: diversityDense, clip: true,
        renderItem: function (params, api) {
            var top = api.coord([api.value(0), api.value(1)]);
            var bot = api.coord([api.value(0), api.value(2)]);
            return {
                type: 'rect',
                shape: { x: top[0] - 4.5, y: top[1] - 4.5, width: 9, height: bot[1] - top[1] + 9, r: 4.5 },
                style: { fill: '#1f77b4', opacity: 0.88 }
            };
        }
    });

    // ---- 3D scatter panel ----
    function projUVW(u, v, w) {
        var depth = ((1 - u) + v) / 2;
        var h = 52 * (1.2 - 0.4 * depth);
        return [693 + 74 * u + 40 * v, 130 + 25 * u - 42 * v - h * w];
    }
    function norm(val, r) { return (val - r[0]) / (r[1] - r[0]); }
    function project3d(p) {
        return projUVW(norm(p[0], sol3dXRange), norm(p[1], sol3dYRange), norm(p[2], sol3dZRange));
    }
    function line3d(a, b, color, width, z) {
        var p = projUVW(a[0], a[1], a[2]), q = projUVW(b[0], b[1], b[2]);
        return { type: 'line', z: z, silent: true, shape: { x1: p[0], y1: p[1], x2: q[0], y2: q[1] }, style: { stroke: color, lineWidth: width } };
    }
    function pane(corners) {
        return { type: 'polygon', z: 13, silent: true, shape: { points: corners.map(function (c) { return projUVW(c[0], c[1], c[2]); }) }, style: { fill: '#f2f2f2', stroke: '#d9d9d9', lineWidth: 0.8 } };
    }

    // white axes background hiding the top-left corner of the component-size legend
    graphics.push({ type: 'rect', z: 12, silent: true, shape: { x: 600, y: 30, width: 212, height: 135 }, style: { fill: '#fff' } });
    graphics.push(pane([[0, 0, 0], [1, 0, 0], [1, 1, 0], [0, 1, 0]]));
    graphics.push(pane([[0, 0, 0], [0, 1, 0], [0, 1, 1], [0, 0, 1]]));
    graphics.push(pane([[0, 1, 0], [1, 1, 0], [1, 1, 1], [0, 1, 1]]));
    var GRID3D = '#cfcfcf';
    sol3dXTicks.forEach(function (t) {
        var u = norm(t, sol3dXRange);
        graphics.push(line3d([u, 0, 0], [u, 1, 0], GRID3D, 0.8, 13));
        graphics.push(line3d([u, 1, 0], [u, 1, 1], GRID3D, 0.8, 13));
        var p = projUVW(u, 0, 0);
        graphics.push({ type: 'line', z: 15, silent: true, shape: { x1: p[0], y1: p[1], x2: p[0] - 1.5, y2: p[1] + 4.5 }, style: { stroke: '#000', lineWidth: 0.8 } });
        graphics.push(textEl(p[0] - 10, p[1] + 30, minus(t), 13.9, 15));
    });
    sol3dYTicks.forEach(function (t) {
        var v = norm(t, sol3dYRange);
        graphics.push(line3d([0, v, 0], [1, v, 0], GRID3D, 0.8, 13));
        graphics.push(line3d([0, v, 0], [0, v, 1], GRID3D, 0.8, 13));
        var p = projUVW(1, v, 0);
        graphics.push({ type: 'line', z: 15, silent: true, shape: { x1: p[0], y1: p[1], x2: p[0] + 4, y2: p[1] + 2 }, style: { stroke: '#000', lineWidth: 0.8 } });
        graphics.push(textEl(p[0] + 16, p[1] + 26, minus(t), 13.9, 15));
    });
    sol3dZTicks.forEach(function (t) {
        var w = norm(t, sol3dZRange);
        graphics.push(line3d([0, 0, w], [0, 1, w], GRID3D, 0.8, 13));
        graphics.push(line3d([0, 1, w], [1, 1, w], GRID3D, 0.8, 13));
        var p = projUVW(1, 1, w);
        graphics.push({ type: 'line', z: 15, silent: true, shape: { x1: p[0], y1: p[1], x2: p[0] + 4, y2: p[1] }, style: { stroke: '#000', lineWidth: 0.8 } });
        graphics.push(textEl(p[0] + 24, p[1] + 1.5, minus(t), 13.9, 15));
    });
    graphics.push(line3d([0, 0, 0], [1, 0, 0], '#222', 1, 15));
    graphics.push(line3d([1, 0, 0], [1, 1, 0], '#222', 1, 15));
    graphics.push(line3d([1, 1, 0], [1, 1, 1], '#222', 1, 15));
    graphics.push(textEl(706, 192, 'Solution vector x', 13.9, 15, { rotation: -0.33 }));
    graphics.push(textEl(818, 184, 'Solution vector y', 13.9, 15, { rotation: 0.78 }));
    graphics.push(textEl(861, 86, 'Objective value', 13.9, 15, { rotation: Math.PI / 2 }));
    graphics.push(textEl(748, 21.7, 'Solution values to objective function value', 16.7, 15));

    var g3d = grids.length;
    grids.push({ left: 0, top: 0, width: 1450, height: 850, show: false });
    xAxes.push({ type: 'value', gridIndex: g3d, min: 0, max: 1450, show: false });
    yAxes.push({ type: 'value', gridIndex: g3d, min: 0, max: 850, inverse: true, show: false });
    series.push({
        type: 'scatter', xAxisIndex: g3d, yAxisIndex: g3d, z: 14, silent: true,
        data: solutionSparse.map(project3d), symbolSize: 9, itemStyle: { color: '#1f77b4', opacity: 0.11 }
    });
    series.push({
        type: 'scatter', xAxisIndex: g3d, yAxisIndex: g3d, z: 14, silent: true,
        data: solutionCore.map(project3d), symbolSize: 10, itemStyle: { color: '#1f77b4', opacity: 0.75 }
    });

    // ---- parameter table ----
    graphics.push(textEl(930, 424, 'Function optimization model', 22.2, 5, { align: 'left' }));
    graphics.push(textEl(948, 446.7, 'Model', 13.9, 5, { align: 'left', weight: 'bold' }));
    modelParams.forEach(function (row, k) {
        var y = 460.7 + 12.72 * k;
        graphics.push(textEl(948, y, row[0], 11.1, 5, { align: 'left' }));
        graphics.push(textEl(1185, y, ': ' + row[1], 11.1, 5, { align: 'left' }));
    });
    graphics.push(textEl(948, 653.3, 'Evolutionary', 13.9, 5, { align: 'left', weight: 'bold' }));
    graphics.push(textEl(1186, 653.3, 'Agent', 13.9, 5, { align: 'left', weight: 'bold' }));
    graphics.push(textEl(1324, 653.3, 'Composition', 13.9, 5, { align: 'left', weight: 'bold' }));
    evolutionaryParams.forEach(function (row, k) {
        var y = 666.7 + 12.7 * k;
        graphics.push(textEl(948, y, row[0], 11.1, 5, { align: 'left' }));
        graphics.push(textEl(1185, y, row[1] === '' ? ':' : ': ' + row[1], 11.1, 5, { align: 'left' }));
        graphics.push(textEl(1323, y, row[2] === '' ? ':' : ': ' + row[2], 11.1, 5, { align: 'left' }));
    });

    var chart = echarts.init(document.getElementById('chart'));
    chart.setOption({
        animation: false,
        backgroundColor: '#fff',
        textStyle: { fontFamily: FONT },
        grid: grids,
        xAxis: xAxes,
        yAxis: yAxes,
        legend: legends,
        series: series,
        graphic: { elements: graphics }
    });
})();
</script>
</body>
</html>
